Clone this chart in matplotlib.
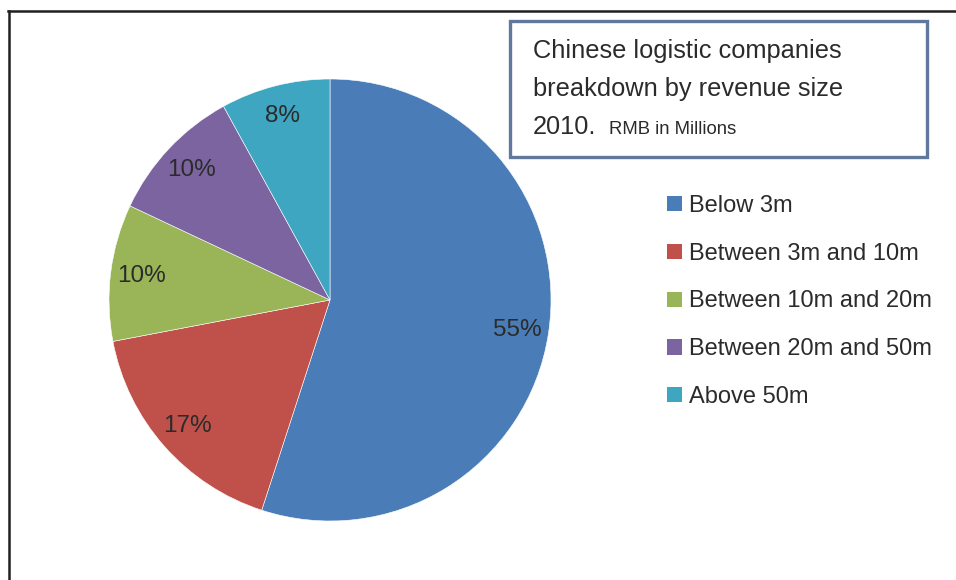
import matplotlib
matplotlib.use("Agg")
import matplotlib.pyplot as plt
from matplotlib.patches import Rectangle
from matplotlib.lines import Line2D

categories = ["Below 3m", "Between 3m and 10m", "Between 10m and 20m",
              "Between 20m and 50m", "Above 50m"]
values = [55, 17, 10, 10, 8]
colors = ["#4a7db8", "#bf514a", "#99b558", "#7c64a0", "#3ea6c1"]
title_lines = ["Chinese logistic companies", "breakdown by revenue size", "2010."]
subtitle = "RMB in Millions"

plt.rcParams['font.family'] = ['Liberation Sans', 'DejaVu Sans']
TXT = "#2b2b2b"

W, H = 956, 580
fig = plt.figure(figsize=(W / 100, H / 100), dpi=100)
fig.patch.set_facecolor("white")

def fx(px):
    return px / W

def fy(py):
    return 1 - py / H

# frame lines (top and left)
fig.add_artist(Line2D([fx(8), 1.0], [fy(11), fy(11)], color="#231f20", lw=1.8,
                      transform=fig.transFigure))
fig.add_artist(Line2D([fx(9), fx(9)], [fy(11), 0.0], color="#231f20", lw=1.8,
                      transform=fig.transFigure))

# pie
cx, cy, r = 330, 300, 221
ax = fig.add_axes([fx(cx - r), fy(cy + r), (2 * r) / W, (2 * r) / H])
wedges, texts, autotexts = ax.pie(
    values, colors=colors, startangle=90, counterclock=False,
    autopct=lambda p: f"{p:.0f}%", pctdistance=0.86,
    wedgeprops=dict(edgecolor="white", linewidth=0.4),
    textprops=dict(fontsize=17.5, color=TXT))
ax.set_xlim(-1, 1)
ax.set_ylim(-1, 1)
ax.set_aspect("equal")
ax.axis("off")

# title box
fig.add_artist(Rectangle((fx(510), fy(157)), fx(927) - fx(510), fy(21) - fy(157),
                         transform=fig.transFigure, fill=False,
                         edgecolor="#5f789b", lw=2.4))
baselines = [58, 96, 134]
for line, b in zip(title_lines, baselines):
    fig.text(fx(533), fy(b), line, fontsize=18.3, color=TXT, va="baseline", ha="left")
fig.text(fx(609), fy(134), subtitle, fontsize=13.3, color=TXT, va="baseline", ha="left")

# legend
leg = fig.legend(wedges, categories, loc="upper left",
                 bbox_to_anchor=(fx(667), fy(195)), frameon=False,
                 fontsize=17, handlelength=0.62, handleheight=0.62,
                 handletextpad=0.3, labelspacing=1.09, borderpad=0,
                 borderaxespad=0)
for t in leg.get_texts():
    t.set_color(TXT)
for h in leg.legend_handles:
    h.set_edgecolor("none")

fig.savefig("out.png", dpi=100)
